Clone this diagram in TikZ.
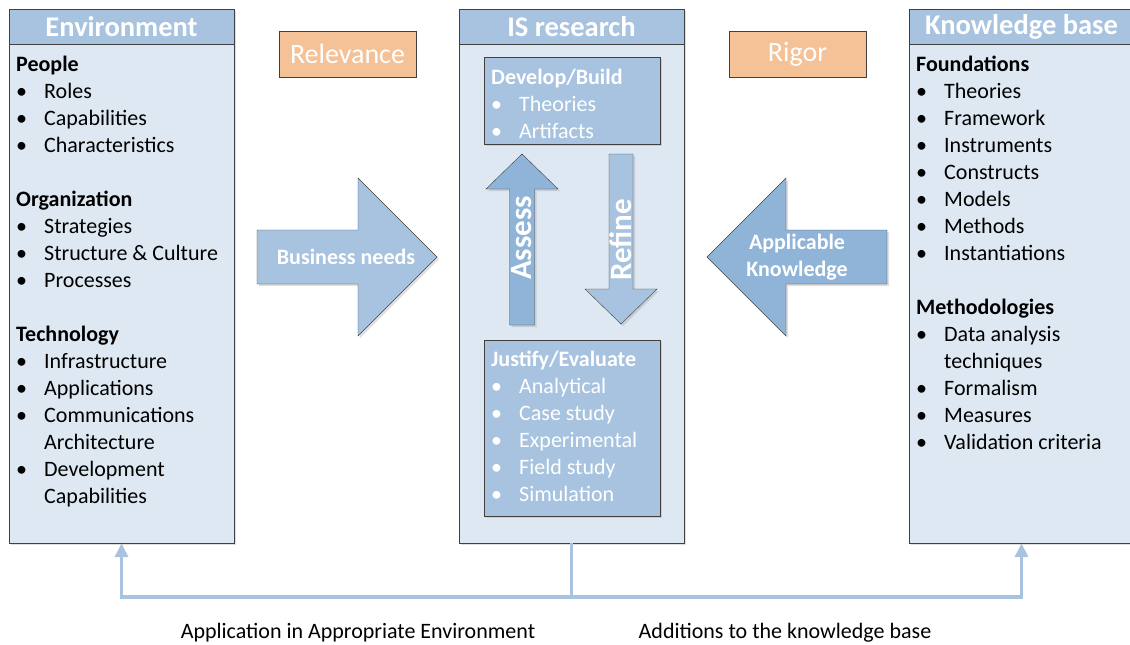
\documentclass[tikz,border=0pt]{standalone}
\usepackage{fontspec}
\setmainfont{Carlito}
\usepackage{tikz}
\usetikzlibrary{arrows.meta}
\usetikzlibrary{shadows}

\definecolor{hdrblue}{HTML}{A7C3DF}
\definecolor{bodyblue}{HTML}{DEE8F2}
\definecolor{darkblue}{HTML}{8FB4D7}
\definecolor{orng}{HTML}{F5C196}
\definecolor{edge}{HTML}{404040}

\newcommand{\itm}[1]{\makebox[28pt][l]{\textbullet}#1}
\newcommand{\cont}[1]{\hspace*{28pt}#1}

\tikzset{
    shade/.style={drop shadow={shadow xshift=2pt, shadow yshift=-2pt, opacity=0.25}},
    bodybox/.style={draw=edge, fill=bodyblue, inner sep=0pt, shade},
    hdr/.style={draw=edge, fill=hdrblue, inner sep=0pt, minimum width=225pt, minimum height=35pt,
        text=white, font=\bfseries\fontsize{28.5}{30}\selectfont},
    innerbox/.style={draw=edge, fill=hdrblue, inner sep=0pt, minimum width=176pt, shade},
    tag/.style={draw=edge, fill=orng, inner sep=0pt, minimum width=137pt, minimum height=46pt,
        text=white, font=\fontsize{28}{30}\selectfont},
    bigarrow/.style={draw=edge, shade},
    % base anchor of an aligned node sits on its last line
    list/.style={anchor=base west, inner sep=0pt, align=left, font=\fontsize{22}{27}\selectfont},
    arrowtext/.style={text=white, align=center, font=\bfseries\fontsize{22}{27}\selectfont},
    vtext/.style={text=white, rotate=90, font=\bfseries\fontsize{31}{32}\selectfont},
    conn/.style={draw=hdrblue, line width=3.5pt, -{Triangle[length=14pt,width=13pt]}},
    lbl/.style={font=\fontsize{22}{24}\selectfont},
}

\begin{document}
\begin{tikzpicture}[x=1pt,y=-1pt]
    \useasboundingbox (0,0) rectangle (1130,645);
    %%% three columns
    \node[bodybox, minimum width=225pt, minimum height=534pt] (env) at (121.5,276) {};
    \node[hdr] (env-hd) at (121.5,26.5) {Environment};
    \node[bodybox, minimum width=225pt, minimum height=534pt] (isr) at (571.5,276) {};
    \node[hdr] (isr-hd) at (571.5,26.5) {IS research};
    \node[bodybox, minimum width=225pt, minimum height=534pt] (kb) at (1021.5,276) {};
    \node[hdr] (kb-hd) at (1021.5,26.5) {Knowledge base};
    %%% tags
    \node[tag] (rel) at (347.5,54) {Relevance};
    \node[tag] (rig) at (797.5,54) {Rigor};
    %%% environment list
    \node[list] (env-list) at (16,503) {{\bfseries People}\\ \itm{Roles}\\ \itm{Capabilities}\\ \itm{Characteristics}\\ ~\\
        {\bfseries Organization}\\ \itm{Strategies}\\ \itm{Structure \& Culture}\\ \itm{Processes}\\ ~\\
        {\bfseries Technology}\\ \itm{Infrastructure}\\ \itm{Applications}\\ \itm{Communications}\\ \cont{Architecture}\\
        \itm{Development}\\ \cont{Capabilities}};
    %%% knowledge base list
    \node[list] (kb-list) at (916,449) {{\bfseries Foundations}\\ \itm{Theories}\\ \itm{Framework}\\ \itm{Instruments}\\
        \itm{Constructs}\\ \itm{Models}\\ \itm{Methods}\\ \itm{Instantiations}\\ ~\\
        {\bfseries Methodologies}\\ \itm{Data analysis}\\ \cont{techniques}\\ \itm{Formalism}\\ \itm{Measures}\\
        \itm{Validation criteria}};
    %%% IS research inner boxes
    \node[innerbox, minimum height=87pt] (dev) at (572,100.5) {};
    \node[list, text=white] (dev-list) at (491,138) {{\bfseries Develop/Build}\\ \itm{Theories}\\ \itm{Artifacts}};
    \node[innerbox, minimum height=176pt] (jus) at (572,428) {};
    \node[list, text=white] (jus-list) at (491,501) {{\bfseries Justify/Evaluate}\\ \itm{Analytical}\\ \itm{Case study}\\
        \itm{Experimental}\\ \itm{Field study}\\ \itm{Simulation}};
    %%% big arrows
    \draw[bigarrow, fill=hdrblue] (257,230) -- (358,230) -- (358,178) -- (437,257) -- (358,336) -- (358,284) -- (257,284) -- cycle;
    \node[arrowtext] (bn) at (346,257) {Business needs};
    \draw[bigarrow, fill=darkblue] (887,230) -- (786,230) -- (786,178) -- (707,257) -- (786,336) -- (786,284) -- (887,284) -- cycle;
    \node[arrowtext] (ak) at (797,257.5) {Applicable\\Knowledge};
    \draw[bigarrow, fill=darkblue] (509.5,325) -- (509.5,189) -- (486,189) -- (522,154) -- (558,189) -- (534.5,189) -- (534.5,325) -- cycle;
    \node[vtext] (assess) at (522,238) {Assess};
    \draw[bigarrow, fill=hdrblue] (609,154) -- (633,154) -- (633,289) -- (657,289) -- (621,324) -- (585,289) -- (609,289) -- cycle;
    \node[vtext] (refine) at (621,240) {Refine};
    %%% feedback lines
    \draw[conn] (isr.south) -- ++(0,54) -| (env.south);
    \draw[conn] (isr.south) -- ++(0,54) -| (kb.south);
    \node[lbl] (app) at (358,633) {Application in Appropriate Environment};
    \node[lbl] (add) at (785,633) {Additions to the knowledge base};
\end{tikzpicture}
\end{document}
